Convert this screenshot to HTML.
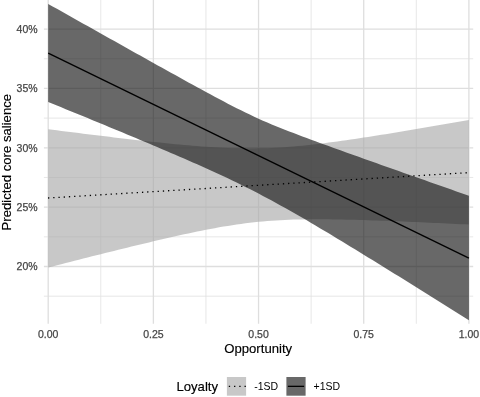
<!DOCTYPE html>
<html><head><meta charset="utf-8"><title>Predicted core salience by Opportunity and Loyalty</title>
<style>
html,body{margin:0;padding:0;background:#fff;}
svg{display:block;font-family:"Liberation Sans",Arial,Helvetica,sans-serif;}
</style></head>
<body>
<svg width="480" height="397" viewBox="0 0 480 397">
<rect width="480" height="397" fill="#fff"/>
<line x1="43.9" x2="473.2" y1="296.18" y2="296.18" stroke="#e1e1e1" stroke-width="0.8"/>
<line x1="43.9" x2="473.2" y1="236.82" y2="236.82" stroke="#e1e1e1" stroke-width="0.8"/>
<line x1="43.9" x2="473.2" y1="177.47" y2="177.47" stroke="#e1e1e1" stroke-width="0.8"/>
<line x1="43.9" x2="473.2" y1="118.12" y2="118.12" stroke="#e1e1e1" stroke-width="0.8"/>
<line x1="43.9" x2="473.2" y1="58.77" y2="58.77" stroke="#e1e1e1" stroke-width="0.8"/>
<line x1="100.79" x2="100.79" y1="0.0" y2="323.75" stroke="#e1e1e1" stroke-width="0.8"/>
<line x1="205.96" x2="205.96" y1="0.0" y2="323.75" stroke="#e1e1e1" stroke-width="0.8"/>
<line x1="311.14" x2="311.14" y1="0.0" y2="323.75" stroke="#e1e1e1" stroke-width="0.8"/>
<line x1="416.31" x2="416.31" y1="0.0" y2="323.75" stroke="#e1e1e1" stroke-width="0.8"/>
<line x1="43.9" x2="473.2" y1="266.50" y2="266.50" stroke="#dedede" stroke-width="1.3"/>
<line x1="43.9" x2="473.2" y1="207.15" y2="207.15" stroke="#dedede" stroke-width="1.3"/>
<line x1="43.9" x2="473.2" y1="147.80" y2="147.80" stroke="#dedede" stroke-width="1.3"/>
<line x1="43.9" x2="473.2" y1="88.45" y2="88.45" stroke="#dedede" stroke-width="1.3"/>
<line x1="43.9" x2="473.2" y1="29.10" y2="29.10" stroke="#dedede" stroke-width="1.3"/>
<line x1="48.20" x2="48.20" y1="0.0" y2="323.75" stroke="#dedede" stroke-width="1.3"/>
<line x1="153.38" x2="153.38" y1="0.0" y2="323.75" stroke="#dedede" stroke-width="1.3"/>
<line x1="258.55" x2="258.55" y1="0.0" y2="323.75" stroke="#dedede" stroke-width="1.3"/>
<line x1="363.72" x2="363.72" y1="0.0" y2="323.75" stroke="#dedede" stroke-width="1.3"/>
<line x1="468.90" x2="468.90" y1="0.0" y2="323.75" stroke="#dedede" stroke-width="1.3"/>
<path d="M48.20,129.24 L52.58,129.80 L56.96,130.35 L61.35,130.91 L65.73,131.46 L70.11,132.01 L74.49,132.56 L78.88,133.11 L83.26,133.66 L87.64,134.20 L92.02,134.74 L96.41,135.28 L100.79,135.81 L105.17,136.34 L109.55,136.87 L113.93,137.39 L118.32,137.92 L122.70,138.43 L127.08,138.94 L131.46,139.45 L135.85,139.95 L140.23,140.44 L144.61,140.93 L148.99,141.42 L153.38,141.89 L157.76,142.36 L162.14,142.82 L166.52,143.27 L170.90,143.71 L175.29,144.14 L179.67,144.55 L184.05,144.96 L188.43,145.35 L192.82,145.72 L197.20,146.08 L201.58,146.42 L205.96,146.74 L210.34,147.04 L214.73,147.32 L219.11,147.57 L223.49,147.79 L227.87,147.98 L232.26,148.15 L236.64,148.27 L241.02,148.37 L245.40,148.43 L249.79,148.45 L254.17,148.43 L258.55,148.37 L262.93,148.27 L267.31,148.13 L271.70,147.96 L276.08,147.74 L280.46,147.48 L284.84,147.19 L289.23,146.86 L293.61,146.49 L297.99,146.10 L302.37,145.67 L306.76,145.22 L311.14,144.74 L315.52,144.24 L319.90,143.72 L324.28,143.17 L328.67,142.61 L333.05,142.03 L337.43,141.43 L341.81,140.82 L346.20,140.20 L350.58,139.56 L354.96,138.92 L359.34,138.26 L363.72,137.59 L368.11,136.91 L372.49,136.23 L376.87,135.54 L381.25,134.84 L385.64,134.14 L390.02,133.43 L394.40,132.71 L398.78,131.99 L403.17,131.27 L407.55,130.54 L411.93,129.80 L416.31,129.07 L420.69,128.32 L425.08,127.58 L429.46,126.83 L433.84,126.08 L438.22,125.33 L442.61,124.57 L446.99,123.82 L451.37,123.06 L455.75,122.29 L460.14,121.53 L464.52,120.76 L468.90,120.00 L468.90,224.56 L464.52,224.34 L460.14,224.13 L455.75,223.92 L451.37,223.71 L446.99,223.50 L442.61,223.29 L438.22,223.09 L433.84,222.88 L429.46,222.68 L425.08,222.48 L420.69,222.29 L416.31,222.10 L411.93,221.91 L407.55,221.72 L403.17,221.54 L398.78,221.36 L394.40,221.18 L390.02,221.01 L385.64,220.85 L381.25,220.69 L376.87,220.53 L372.49,220.38 L368.11,220.24 L363.72,220.10 L359.34,219.97 L354.96,219.85 L350.58,219.74 L346.20,219.64 L341.81,219.55 L337.43,219.47 L333.05,219.41 L328.67,219.35 L324.28,219.32 L319.90,219.30 L315.52,219.29 L311.14,219.31 L306.76,219.35 L302.37,219.42 L297.99,219.51 L293.61,219.62 L289.23,219.77 L284.84,219.95 L280.46,220.17 L276.08,220.42 L271.70,220.71 L267.31,221.04 L262.93,221.41 L258.55,221.82 L254.17,222.28 L249.79,222.78 L245.40,223.32 L241.02,223.90 L236.64,224.52 L232.26,225.18 L227.87,225.88 L223.49,226.61 L219.11,227.37 L214.73,228.16 L210.34,228.98 L205.96,229.83 L201.58,230.70 L197.20,231.59 L192.82,232.50 L188.43,233.43 L184.05,234.37 L179.67,235.33 L175.29,236.31 L170.90,237.30 L166.52,238.30 L162.14,239.31 L157.76,240.32 L153.38,241.35 L148.99,242.39 L144.61,243.43 L140.23,244.48 L135.85,245.54 L131.46,246.60 L127.08,247.67 L122.70,248.74 L118.32,249.82 L113.93,250.90 L109.55,251.99 L105.17,253.08 L100.79,254.17 L96.41,255.27 L92.02,256.37 L87.64,257.47 L83.26,258.58 L78.88,259.69 L74.49,260.80 L70.11,261.91 L65.73,263.02 L61.35,264.14 L56.96,265.26 L52.58,266.38 L48.20,267.50Z" fill="#a8a8a8" fill-opacity="0.636"/>
<path d="M48.20,3.93 L52.58,6.39 L56.96,8.86 L61.35,11.32 L65.73,13.79 L70.11,16.25 L74.49,18.72 L78.88,21.18 L83.26,23.64 L87.64,26.11 L92.02,28.57 L96.41,31.03 L100.79,33.49 L105.17,35.95 L109.55,38.41 L113.93,40.87 L118.32,43.32 L122.70,45.78 L127.08,48.24 L131.46,50.69 L135.85,53.14 L140.23,55.59 L144.61,58.04 L148.99,60.49 L153.38,62.93 L157.76,65.38 L162.14,67.82 L166.52,70.25 L170.90,72.69 L175.29,75.12 L179.67,77.54 L184.05,79.96 L188.43,82.38 L192.82,84.79 L197.20,87.19 L201.58,89.58 L205.96,91.97 L210.34,94.34 L214.73,96.69 L219.11,99.03 L223.49,101.35 L227.87,103.65 L232.26,105.91 L236.64,108.15 L241.02,110.35 L245.40,112.51 L249.79,114.62 L254.17,116.67 L258.55,118.68 L262.93,120.63 L267.31,122.54 L271.70,124.39 L276.08,126.20 L280.46,127.98 L284.84,129.72 L289.23,131.43 L293.61,133.12 L297.99,134.79 L302.37,136.44 L306.76,138.08 L311.14,139.70 L315.52,141.31 L319.90,142.92 L324.28,144.52 L328.67,146.11 L333.05,147.69 L337.43,149.27 L341.81,150.85 L346.20,152.42 L350.58,153.98 L354.96,155.55 L359.34,157.11 L363.72,158.67 L368.11,160.23 L372.49,161.79 L376.87,163.34 L381.25,164.89 L385.64,166.44 L390.02,167.99 L394.40,169.54 L398.78,171.09 L403.17,172.64 L407.55,174.18 L411.93,175.73 L416.31,177.27 L420.69,178.82 L425.08,180.36 L429.46,181.90 L433.84,183.44 L438.22,184.98 L442.61,186.52 L446.99,188.06 L451.37,189.60 L455.75,191.14 L460.14,192.68 L464.52,194.22 L468.90,195.76 L468.90,320.23 L464.52,317.48 L460.14,314.73 L455.75,311.98 L451.37,309.23 L446.99,306.48 L442.61,303.74 L438.22,300.99 L433.84,298.25 L429.46,295.51 L425.08,292.77 L420.69,290.03 L416.31,287.29 L411.93,284.56 L407.55,281.83 L403.17,279.10 L398.78,276.37 L394.40,273.65 L390.02,270.93 L385.64,268.21 L381.25,265.50 L376.87,262.79 L372.49,260.09 L368.11,257.39 L363.72,254.69 L359.34,252.00 L354.96,249.31 L350.58,246.64 L346.20,243.97 L341.81,241.30 L337.43,238.65 L333.05,236.00 L328.67,233.37 L324.28,230.74 L319.90,228.13 L315.52,225.53 L311.14,222.94 L306.76,220.37 L302.37,217.82 L297.99,215.29 L293.61,212.78 L289.23,210.29 L284.84,207.82 L280.46,205.38 L276.08,202.96 L271.70,200.57 L267.31,198.22 L262.93,195.89 L258.55,193.59 L254.17,191.33 L249.79,189.09 L245.40,186.89 L241.02,184.72 L236.64,182.57 L232.26,180.45 L227.87,178.36 L223.49,176.30 L219.11,174.26 L214.73,172.24 L210.34,170.23 L205.96,168.25 L201.58,166.29 L197.20,164.33 L192.82,162.40 L188.43,160.48 L184.05,158.56 L179.67,156.66 L175.29,154.77 L170.90,152.89 L166.52,151.01 L162.14,149.15 L157.76,147.29 L153.38,145.43 L148.99,143.59 L144.61,141.74 L140.23,139.91 L135.85,138.07 L131.46,136.24 L127.08,134.42 L122.70,132.60 L118.32,130.78 L113.93,128.96 L109.55,127.15 L105.17,125.34 L100.79,123.53 L96.41,121.73 L92.02,119.92 L87.64,118.12 L83.26,116.32 L78.88,114.52 L74.49,112.73 L70.11,110.93 L65.73,109.14 L61.35,107.35 L56.96,105.56 L52.58,103.77 L48.20,101.98Z" fill="#121212" fill-opacity="0.636"/>
<line x1="48.0" y1="198.0" x2="468.9" y2="172.6" stroke="#000" stroke-width="1.31" stroke-dasharray="1.307 3.921"/>
<line x1="48.2" y1="53.2" x2="468.9" y2="258.1" stroke="#000" stroke-width="1.31"/>
<text x="37.6" y="270.30" text-anchor="end" font-size="10.5" fill="#464646" stroke="#464646" stroke-width="0.25">20%</text>
<text x="37.6" y="210.95" text-anchor="end" font-size="10.5" fill="#464646" stroke="#464646" stroke-width="0.25">25%</text>
<text x="37.6" y="151.60" text-anchor="end" font-size="10.5" fill="#464646" stroke="#464646" stroke-width="0.25">30%</text>
<text x="37.6" y="92.25" text-anchor="end" font-size="10.5" fill="#464646" stroke="#464646" stroke-width="0.25">35%</text>
<text x="37.6" y="32.90" text-anchor="end" font-size="10.5" fill="#464646" stroke="#464646" stroke-width="0.25">40%</text>
<text x="48.20" y="337.8" text-anchor="middle" font-size="10.5" fill="#464646" stroke="#464646" stroke-width="0.25">0.00</text>
<text x="153.38" y="337.8" text-anchor="middle" font-size="10.5" fill="#464646" stroke="#464646" stroke-width="0.25">0.25</text>
<text x="258.55" y="337.8" text-anchor="middle" font-size="10.5" fill="#464646" stroke="#464646" stroke-width="0.25">0.50</text>
<text x="363.72" y="337.8" text-anchor="middle" font-size="10.5" fill="#464646" stroke="#464646" stroke-width="0.25">0.75</text>
<text x="468.90" y="337.8" text-anchor="middle" font-size="10.5" fill="#464646" stroke="#464646" stroke-width="0.25">1.00</text>
<text x="258.2" y="353.1" text-anchor="middle" font-size="13.15" fill="#000" stroke="#000" stroke-width="0.15">Opportunity</text>
<text transform="translate(11.0,162.2) rotate(-90)" text-anchor="middle" font-size="13.15" fill="#000" stroke="#000" stroke-width="0.15">Predicted core salience</text>
<text x="176.4" y="391.05" font-size="13.15" fill="#000" stroke="#000" stroke-width="0.15">Loyalty</text>
<rect x="226.9" y="377.0" width="19.2" height="18.7" fill="#a8a8a8" fill-opacity="0.636"/>
<line x1="228.8" x2="248.2" y1="386.35" y2="386.35" stroke="#000" stroke-width="1.31" stroke-dasharray="1.31 3.93"/>
<text x="254.2" y="390.05" font-size="10.5" fill="#000">-1SD</text>
<rect x="286.4" y="377.0" width="19.2" height="18.7" fill="#121212" fill-opacity="0.636"/>
<line x1="287.9" x2="304.09999999999997" y1="386.35" y2="386.35" stroke="#000" stroke-width="1.31"/>
<text x="313.6" y="390.05" font-size="10.5" fill="#000">+1SD</text>
</svg>
</body></html>
